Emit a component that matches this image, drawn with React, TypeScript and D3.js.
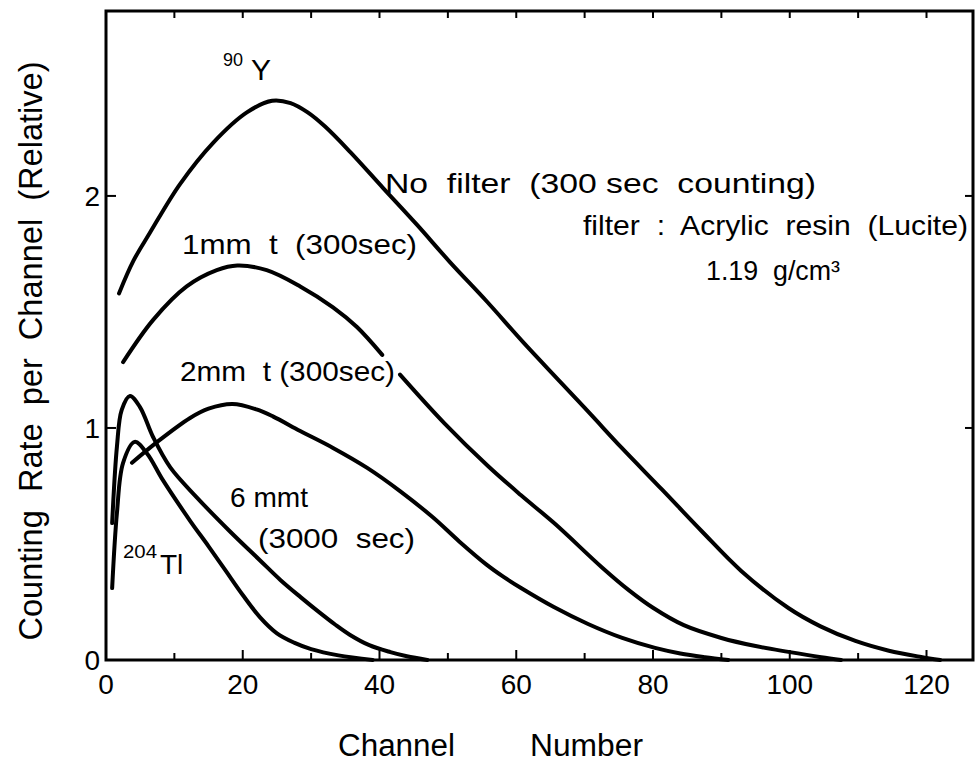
import React from "react";
import * as d3 from "d3";

// ---- data (channel number, relative counting rate) ----
const channelTicks = [0, 20, 40, 60, 80, 100, 120];
const rateTicks = [0, 1, 2];

const noFilter: [number, number][] = [
  [1.9, 1.58], [4, 1.72], [6.4, 1.84], [10.8, 2.05], [15.7, 2.23], [20.6, 2.36],
  [24.3, 2.41], [27, 2.4], [29.5, 2.36], [32, 2.3], [35.7, 2.19], [40.5, 2.035],
  [45.5, 1.875], [50.3, 1.715], [55.7, 1.545], [61, 1.37], [66.4, 1.2], [71, 1.055],
  [75.4, 0.915], [81.3, 0.735], [87.1, 0.556], [92.9, 0.384], [99.8, 0.224],
  [104.5, 0.145], [109.6, 0.082], [114.5, 0.04], [119.2, 0.013], [122, 0],
];

const mm1: [number, number | null][] = [
  [2.5, 1.284], [6.9, 1.466], [11.8, 1.61], [16.2, 1.68], [19.2, 1.7], [23.5, 1.68],
  [28.4, 1.61], [33.2, 1.52], [36.7, 1.435], [40.4, 1.315], [41.7, null],
  [43, 1.23], [49.5, 1.02], [55.9, 0.835], [60.7, 0.71], [65.7, 0.586], [72.5, 0.4],
  [76.5, 0.3], [80, 0.225], [84.5, 0.15], [90, 0.095], [95, 0.06], [99.8, 0.035],
  [104.6, 0.012], [107.5, 0],
];

const mm2: [number, number][] = [
  [3.8, 0.85], [7.5, 0.94], [12.3, 1.043], [15, 1.083], [18.5, 1.103], [22, 1.08],
  [24.4, 1.05], [28.4, 0.987], [33.2, 0.914], [38.2, 0.828], [43, 0.728], [47.8, 0.615],
  [51.7, 0.51], [55.7, 0.41], [58.2, 0.357], [60.7, 0.31], [65.5, 0.228], [70.5, 0.155],
  [75.5, 0.095], [80.3, 0.052], [84, 0.028], [87.6, 0.012], [91, 0],
];

const mm6: [number, number][] = [
  [0.9, 0.59], [1.6, 0.92], [2.3, 1.078], [3.5, 1.138], [4.97, 1.09], [6.9, 0.96],
  [9.4, 0.83], [13.3, 0.7], [18.1, 0.555], [22.5, 0.43], [25.5, 0.345], [28.5, 0.27],
  [31.3, 0.203], [33.5, 0.153], [35.7, 0.108], [38.5, 0.064], [41.6, 0.034], [44, 0.016],
  [47, 0],
];

const tl204: [number, number][] = [
  [0.9, 0.31], [1.6, 0.634], [2.5, 0.85], [4.2, 0.94], [6, 0.89], [8.3, 0.776],
  [12.3, 0.6], [15, 0.49], [17.5, 0.385], [20, 0.28], [22.5, 0.185], [25, 0.115],
  [27.5, 0.075], [30, 0.047], [34, 0.02], [39, 0],
];

const FONT = "'Liberation Sans', Arial, sans-serif";

export default function App() {
  const W = 976, H = 762;
  const x = d3.scaleLinear().domain([0, 126.8]).range([106, 973]);
  const y = d3.scaleLinear().domain([0, 2.797]).range([660, 11]);

  const line = d3
    .line<[number, number | null]>()
    .defined((d) => d[1] !== null)
    .x((d) => x(d[0]))
    .y((d) => y(d[1] as number))
    .curve(d3.curveCatmullRom.alpha(0.5));

  const series = [noFilter, mm1, mm2, mm6, tl204] as [number, number | null][][];

  const [x0, x1] = x.range();
  const [y0, y1] = y.range();
  const minor = d3.range(10, 127, 10);

  const txt = (s: string, xx: number, yy: number, size: number, len?: number, anchor = "start") => (
    <text
      x={xx}
      y={yy}
      fontSize={size}
      fontFamily={FONT}
      textAnchor={anchor}
      textLength={len}
      lengthAdjust={len ? "spacingAndGlyphs" : undefined}
      fill="#000"
      style={{ whiteSpace: "pre" }}
    >
      {s}
    </text>
  );

  return (
    <svg
      width={W}
      height={H}
      style={{ position: "absolute", left: 0, top: 0, background: "#fff" }}
    >
      <rect x={0} y={0} width={W} height={H} fill="#fff" />
      {/* frame */}
      <path
        d={`M${x0},${y1}V${y0}H${x1}V${y1}Z`}
        fill="none"
        stroke="#000"
        strokeWidth={3}
      />
      {/* bottom ticks */}
      {minor.map((t) => (
        <line key={"b" + t} x1={x(t)} x2={x(t)} y1={y0} y2={y0 - (t % 20 === 0 ? 10 : 7)} stroke="#000" strokeWidth={2} />
      ))}
      {/* top ticks */}
      {minor.map((t) => (
        <line key={"t" + t} x1={x(t)} x2={x(t)} y1={y1} y2={y1 + 7} stroke="#000" strokeWidth={2} />
      ))}
      {/* left / right ticks */}
      {rateTicks.slice(1).map((t) => (
        <g key={"y" + t}>
          <line x1={x0} x2={x0 + 10} y1={y(t)} y2={y(t)} stroke="#000" strokeWidth={2} />
          <line x1={x1} x2={x1 - 8} y1={y(t)} y2={y(t)} stroke="#000" strokeWidth={2} />
        </g>
      ))}
      {/* tick labels */}
      {channelTicks.map((t) => (
        <text key={"xl" + t} x={x(t)} y={694} fontSize={28} fontFamily={FONT} textAnchor="middle">
          {t}
        </text>
      ))}
      {rateTicks.map((t) => (
        <text key={"yl" + t} x={100} y={y(t) + 10} fontSize={28} fontFamily={FONT} textAnchor="end">
          {t}
        </text>
      ))}
      {/* axis titles */}
      {txt("Channel", 338, 756, 31, 117)}
      {txt("Number", 530, 756, 31, 113)}
      <text
        transform="translate(42,351) rotate(-90)"
        fontSize={33}
        fontFamily={FONT}
        textAnchor="middle"
        textLength={579}
        lengthAdjust="spacingAndGlyphs"
        style={{ whiteSpace: "pre" }}
      >
        {"Counting  Rate  per  Channel  (Relative)"}
      </text>
      {/* curves */}
      {series.map((s, i) => (
        <path key={"s" + i} d={line(s) || ""} fill="none" stroke="#000" strokeWidth={4} strokeLinejoin="round" strokeLinecap="round" />
      ))}
      {/* annotations */}
      {txt("90", 223, 66, 18)}
      {txt("Y", 251, 80, 30)}
      {txt("No  filter  (300 sec  counting)", 385, 193, 28, 431)}
      {txt("filter  :  Acrylic  resin  (Lucite)", 583, 235, 28, 385)}
      {txt("1.19  g/cm³", 706, 280, 28, 134)}
      {txt("1mm  t  (300sec)", 182, 254, 28, 235)}
      {txt("2mm  t (300sec)", 180, 381, 28, 215)}
      {txt("6 mmt", 230, 507, 28, 78)}
      {txt("(3000  sec)", 258, 548, 28, 157)}
      {txt("204", 123, 558, 19, 34)}
      {txt("Tl", 160, 574, 28)}
    </svg>
  );
}
